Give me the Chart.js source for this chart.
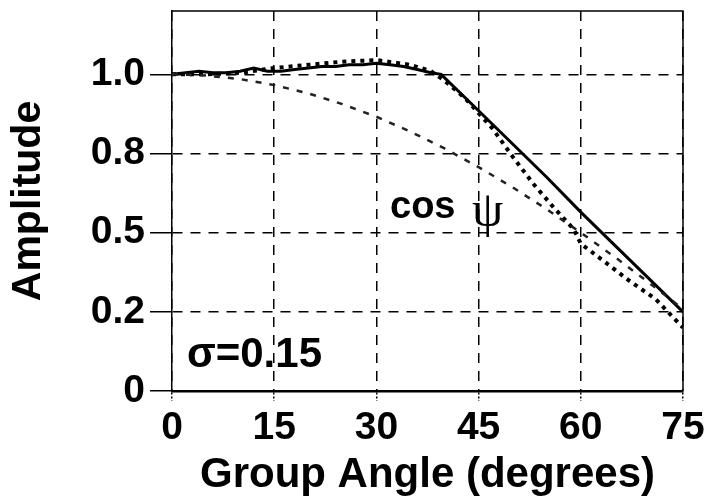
<!DOCTYPE html>
<html>
<head>
<meta charset="utf-8">
<title>Amplitude vs Group Angle</title>
<script src="https://cdn.jsdelivr.net/npm/chart.js@4.4.1/dist/chart.umd.min.js"></script>
<style>
  html, body { margin: 0; padding: 0; background: #fff; }
  #wrap { width: 711px; height: 501px; }
</style>
</head>
<body>
<div id="wrap"><canvas id="ampChart" width="711" height="501"></canvas></div>
<script>
// values
const solidAngles = [0, 2, 4, 6, 8, 10, 12, 14, 16, 18, 20, 22, 24, 26, 28, 30, 32, 34, 36, 38, 39.5, 45, 50, 55, 60, 65, 70, 75];
const solidValues = [1.0, 1.005, 1.01, 1.005, 1.005, 1.01, 1.02, 1.01, 1.01, 1.015, 1.02, 1.025, 1.025, 1.03, 1.03, 1.035, 1.03, 1.025, 1.015, 1.005, 1.0, 0.885, 0.78, 0.675, 0.565, 0.46, 0.355, 0.25];

const dottedAngles = [0, 5, 10, 15, 20, 25, 30, 35, 38, 40, 43, 47, 50, 53, 56, 59, 60, 64, 67, 71, 75];
const dottedValues = [1.0, 1.0, 1.005, 1.02, 1.03, 1.04, 1.045, 1.03, 1.01, 0.98, 0.925, 0.83, 0.74, 0.655, 0.58, 0.51, 0.465, 0.4, 0.35, 0.29, 0.2];

const cosAngles = [0, 5, 10, 15, 20, 25, 30, 35, 40, 45, 50, 55, 60, 65, 70, 75];
const cosValues = [1.0, 0.996, 0.985, 0.966, 0.94, 0.906, 0.866, 0.819, 0.766, 0.707, 0.643, 0.574, 0.5, 0.423, 0.342, 0.259];

const xTickValues = [0, 15, 30, 45, 60, 75];
const yTickValues = [0, 0.25, 0.5, 0.75, 1.0];
const yTickLabels = ['0', '0.2', '0.5', '0.8', '1.0'];

const FONT = '"Liberation Sans", Arial, Helvetica, sans-serif';

function toPoints(xs, ys) {
  return xs.map((x, i) => ({ x: x, y: ys[i] }));
}

// frame on top/right plus the two text labels inside the plot
const extrasPlugin = {
  id: 'extras',
  afterDraw(chart) {
    const ctx = chart.ctx;
    const a = chart.chartArea;
    const xs = chart.scales.x;
    const ys = chart.scales.y;
    ctx.save();
    ctx.setLineDash([]);
    ctx.strokeStyle = '#000';
    ctx.lineWidth = 1.5;
    ctx.beginPath();
    ctx.moveTo(a.left, a.top);
    ctx.lineTo(a.right, a.top);
    ctx.lineTo(a.right, a.bottom);
    ctx.stroke();

    ctx.fillStyle = '#000';
    ctx.textBaseline = 'alphabetic';
    ctx.textAlign = 'left';

    // cos psi
    let px = xs.getPixelForValue(32.0);
    let py = ys.getPixelForValue(0.546);
    ctx.font = 'bold 38px ' + FONT;
    ctx.fillText('cos', px, py);
    const w = ctx.measureText('cos ').width;
    ctx.font = '50px "Liberation Serif", "DejaVu Serif", serif';
    ctx.fillText('\u03C8', px + w + 6, py + 8);

    // sigma
    px = xs.getPixelForValue(2.2);
    py = ys.getPixelForValue(0.076);
    ctx.font = 'bold 42px ' + FONT;
    ctx.fillText('\u03C3=0.15', px, py);
    ctx.restore();
  }
};

const ctx = document.getElementById('ampChart').getContext('2d');
new Chart(ctx, {
  type: 'line',
  data: {
    datasets: [
      {
        label: 'cos',
        data: toPoints(cosAngles, cosValues),
        borderColor: '#222',
        borderWidth: 2.5,
        borderDash: [6, 8],
        pointRadius: 0,
        fill: false
      },
      {
        label: 'dotted',
        data: toPoints(dottedAngles, dottedValues),
        borderColor: '#000',
        borderWidth: 4,
        borderDash: [4, 5],
        pointRadius: 0,
        fill: false
      },
      {
        label: 'solid',
        data: toPoints(solidAngles, solidValues),
        borderColor: '#000',
        borderWidth: 3,
        pointRadius: 0,
        fill: false
      }
    ]
  },
  options: {
    responsive: false,
    animation: false,
    layout: { padding: { left: 8, right: 28, top: 11, bottom: 5 } },
    plugins: {
      legend: { display: false },
      tooltip: { enabled: false }
    },
    scales: {
      x: {
        type: 'linear',
        min: 0,
        max: 75,
        afterBuildTicks: scale => { scale.ticks = xTickValues.map(v => ({ value: v })); },
        afterFit: scale => {
          scale.height = 105;
          scale.paddingLeft = 0;
          scale.paddingRight = 0;
        },
        ticks: {
          color: '#000',
          font: { family: FONT, size: 39, weight: 'bold' },
          padding: 4,
          maxRotation: 0
        },
        grid: {
          color: '#000',
          lineWidth: 1.5,
          tickLength: 10,
          tickBorderDash: [2, 2],
          tickWidth: 1.5
        },
        border: { display: true, color: '#000', width: 2.5, dash: [10, 8] },
        title: {
          display: true,
          text: 'Group Angle (degrees)',
          color: '#000',
          font: { family: FONT, size: 42, weight: 'bold', lineHeight: 1 },
          padding: { top: 0, bottom: 0 }
        }
      },
      y: {
        type: 'linear',
        min: 0,
        max: 1.2,
        afterBuildTicks: scale => { scale.ticks = yTickValues.map(v => ({ value: v })); },
        afterFit: scale => {
          scale.width = 164;
          scale.paddingTop = 0;
          scale.paddingBottom = 0;
        },
        ticks: {
          color: '#000',
          font: { family: FONT, size: 39, weight: 'bold' },
          padding: 5,
          callback: (value, index) => yTickLabels[index]
        },
        grid: {
          color: '#000',
          lineWidth: 1.5,
          tickLength: 22,
          tickBorderDash: [],
          tickWidth: 1.5
        },
        border: { display: true, color: '#000', width: 1.5, dash: [10, 8] },
        title: {
          display: true,
          text: 'Amplitude',
          color: '#000',
          font: { family: FONT, size: 41, weight: 'bold', lineHeight: 1 },
          padding: { top: 0, bottom: 0 }
        }
      }
    }
  },
  plugins: [extrasPlugin]
});
</script>
</body>
</html>
